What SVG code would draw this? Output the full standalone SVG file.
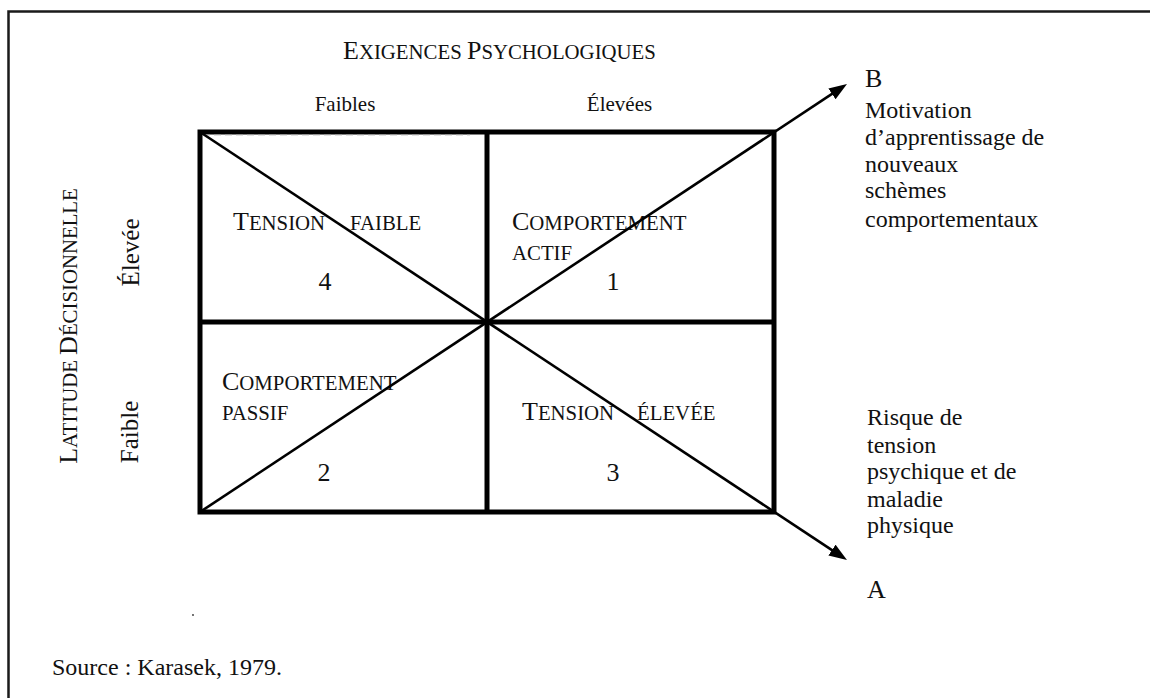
<svg xmlns="http://www.w3.org/2000/svg" width="1150" height="698" viewBox="0 0 1150 698">
  <defs>
    <style>
      text { font-family: "Liberation Serif", "Times New Roman", serif; fill: #111; }
      .big { font-size: 26px; }
      .sc { font-size: 20.8px; }
      .col { font-size: 21px; }
      .row { font-size: 25px; }
      .num { font-size: 26px; text-anchor: middle; }
      .side { font-size: 24px; }
      .letter { font-size: 26px; }
      .grid { fill: none; stroke: #000; stroke-width: 5; }
      .diag { fill: none; stroke: #000; stroke-width: 2.6; }
      .frame { fill: none; stroke: #1a1a1a; stroke-width: 2.5; }
    </style>
    <marker id="arrow" markerUnits="userSpaceOnUse" markerWidth="20" markerHeight="14"
            refX="10" refY="6.5" orient="auto">
      <path d="M0,0 L18,6.5 L0,13 z" fill="#000"/>
    </marker>
  </defs>

  <rect width="1150" height="698" fill="#fff"/>

  <!-- page frame -->
  <path class="frame" d="M8.5,698 V11.5 H1150"/>

  <!-- axis titles -->
  <g id="title-exigences">
    <text x="343" y="59"><tspan class="big">E</tspan><tspan class="sc">XIGENCES </tspan><tspan class="big">P</tspan><tspan class="sc">SYCHOLOGIQUES</tspan></text>
  </g>
  <g id="col-faibles">
    <text class="col" x="345" y="111" text-anchor="middle">Faibles</text>
  </g>
  <g id="col-elevees">
    <text class="col" x="619.5" y="111" text-anchor="middle">Élevées</text>
  </g>
  <g id="title-latitude">
    <text transform="translate(77,326) rotate(-90)" text-anchor="middle"><tspan class="big">L</tspan><tspan class="sc">ATITUDE </tspan><tspan class="big">D</tspan><tspan class="sc">ÉCISIONNELLE</tspan></text>
  </g>
  <g id="row-elevee">
    <text class="row" transform="translate(139,252.5) rotate(-90)" text-anchor="middle">Élevée</text>
  </g>
  <g id="row-faible">
    <text class="row" transform="translate(138,432) rotate(-90)" text-anchor="middle">Faible</text>
  </g>

  <!-- 2x2 grid -->
  <g id="grid">
    <rect class="grid" x="200" y="132" width="574" height="380"/>
    <line class="grid" x1="487" y1="132" x2="487" y2="512"/>
    <line class="grid" x1="200" y1="322" x2="774" y2="322"/>
    <line x1="203" y1="134.8" x2="470" y2="134.8" stroke="#999" stroke-width="1" stroke-dasharray="7 4"/>
  </g>

  <!-- quadrant labels -->
  <g id="cell-4">
    <text x="233" y="230"><tspan class="big">T</tspan><tspan class="sc">ENSION</tspan></text>
    <text class="sc" x="350" y="230">FAIBLE</text>
    <text class="num" x="325" y="290">4</text>
  </g>
  <g id="cell-1">
    <text x="512" y="230"><tspan class="big">C</tspan><tspan class="sc">OMPORTEMENT</tspan></text>
    <text class="sc" x="512" y="260">ACTIF</text>
    <text class="num" x="613" y="290">1</text>
  </g>
  <g id="cell-2">
    <text x="222" y="390"><tspan class="big">C</tspan><tspan class="sc">OMPORTEMENT</tspan></text>
    <text class="sc" x="222" y="420">PASSIF</text>
    <text class="num" x="324" y="481">2</text>
  </g>
  <g id="cell-3">
    <text x="522" y="420"><tspan class="big">T</tspan><tspan class="sc">ENSION</tspan></text>
    <text class="sc" x="637" y="420">ÉLEVÉE</text>
    <text class="num" x="613" y="481">3</text>
  </g>

  <!-- diagonals, extended into the A and B arrows -->
  <g id="connectors">
    <line class="diag" x1="200" y1="132" x2="840.3" y2="555.6" marker-end="url(#arrow)"/>
    <line class="diag" x1="200" y1="512" x2="840.3" y2="88.4" marker-end="url(#arrow)"/>
  </g>

  <!-- outcome labels -->
  <g id="outcome-b">
    <text class="letter" x="865" y="87">B</text>
    <text class="side" x="865" y="118">Motivation</text>
    <text class="side" x="865" y="145">d’apprentissage de</text>
    <text class="side" x="865" y="172">nouveaux</text>
    <text class="side" x="865" y="198">schèmes</text>
    <text class="side" x="865" y="227">comportementaux</text>
  </g>
  <g id="outcome-a">
    <text class="side" x="867" y="425">Risque de</text>
    <text class="side" x="867" y="453">tension</text>
    <text class="side" x="867" y="479">psychique et de</text>
    <text class="side" x="867" y="507">maladie</text>
    <text class="side" x="867" y="533">physique</text>
    <text class="letter" x="867" y="598">A</text>
  </g>

  <!-- source note -->
  <g id="source">
    <circle cx="193" cy="615" r="0.9" fill="#333"/>
    <text class="side" x="52" y="675">Source : Karasek, 1979.</text>
  </g>
</svg>
